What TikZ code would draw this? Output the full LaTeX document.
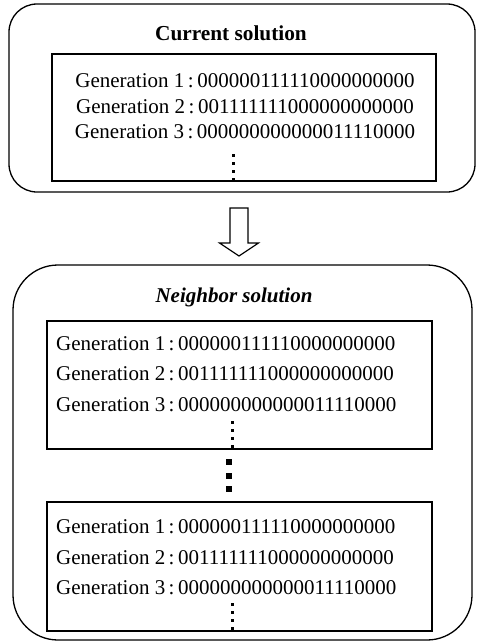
\documentclass[tikz,border=0pt]{standalone}
\usepackage{fontspec}
\setmainfont{Liberation Serif}
\usetikzlibrary{calc}
\begin{document}
\begin{tikzpicture}[x=1pt,y=-1pt,
  frame/.style={draw, line width=1.3pt, rounded corners=#1, inner sep=0pt},
  genbox/.style={draw, line width=1.3pt, inner sep=0pt},
  genline/.style={inner sep=0pt, font=\fontsize{21}{25}\selectfont},
  heading/.style={inner sep=0pt, anchor=base, font=\fontsize{21.3}{25}\selectfont\bfseries},
  dot/.style={fill=black, inner sep=0pt, minimum size=#1}]
\useasboundingbox (0,0) rectangle (477,641);

% current solution
\node[frame=28pt, minimum width=466pt, minimum height=188pt] (cur) at (242,98) {};
\node[heading] (curtitle) at (231,40) {Current solution};
\node[genbox, minimum width=384pt, minimum height=127pt] (curbox) at (244,117.5) {};
\node[genline] (c1) at (245,81) {Generation 1\,:\,000000111110000000000};
\node[genline] (c2) at (245,107) {Generation 2\,:\,001111111000000000000};
\node[genline] (c3) at (245,132) {Generation 3\,:\,000000000000011110000};
\foreach \yy [count=\k] in {155,163,171,179}
  \node[dot=3pt] (cd\k) at (233,\yy) {};

% transition arrow
\coordinate (ar) at (239,208);
\draw[line width=1.2pt, line join=miter]
  ($(ar)+(-9,0)$) -- ($(ar)+(9,0)$) -- ($(ar)+(9,35)$) -- ($(ar)+(19.5,35)$)
  -- ($(ar)+(0,48)$) -- ($(ar)+(-19.5,35)$) -- ($(ar)+(-9,35)$) -- cycle;

% neighbor solution
\node[frame=45pt, minimum width=459pt, minimum height=375pt] (nb) at (242.5,452.5) {};
\node[heading, font=\fontsize{21}{25}\selectfont\bfseries\itshape] (nbtitle) at (234,302) {Neighbor solution};

\node[genbox, minimum width=385pt, minimum height=128pt] (nbA) at (239.5,385) {};
\node[genline, anchor=west] (a1) at (56,344) {Generation 1\,:\,000000111110000000000};
\node[genline, anchor=west] (a2) at (56,374) {Generation 2\,:\,001111111000000000000};
\node[genline, anchor=west] (a3) at (56,405) {Generation 3\,:\,000000000000011110000};
\foreach \yy [count=\k] in {422,430,438,446}
  \node[dot=3pt] (ad\k) at (232,\yy) {};

\foreach \yy [count=\k] in {462,476,489}
  \node[dot=6pt] (md\k) at (229,\yy) {};

\node[genbox, minimum width=385pt, minimum height=129pt] (nbB) at (239.5,566.5) {};
\node[genline, anchor=west] (b1) at (56,527) {Generation 1\,:\,000000111110000000000};
\node[genline, anchor=west] (b2) at (56,558) {Generation 2\,:\,001111111000000000000};
\node[genline, anchor=west] (b3) at (56,588) {Generation 3\,:\,000000000000011110000};
\foreach \yy [count=\k] in {604,612,620,628}
  \node[dot=3pt] (bd\k) at (232,\yy) {};
\end{tikzpicture}
\end{document}
